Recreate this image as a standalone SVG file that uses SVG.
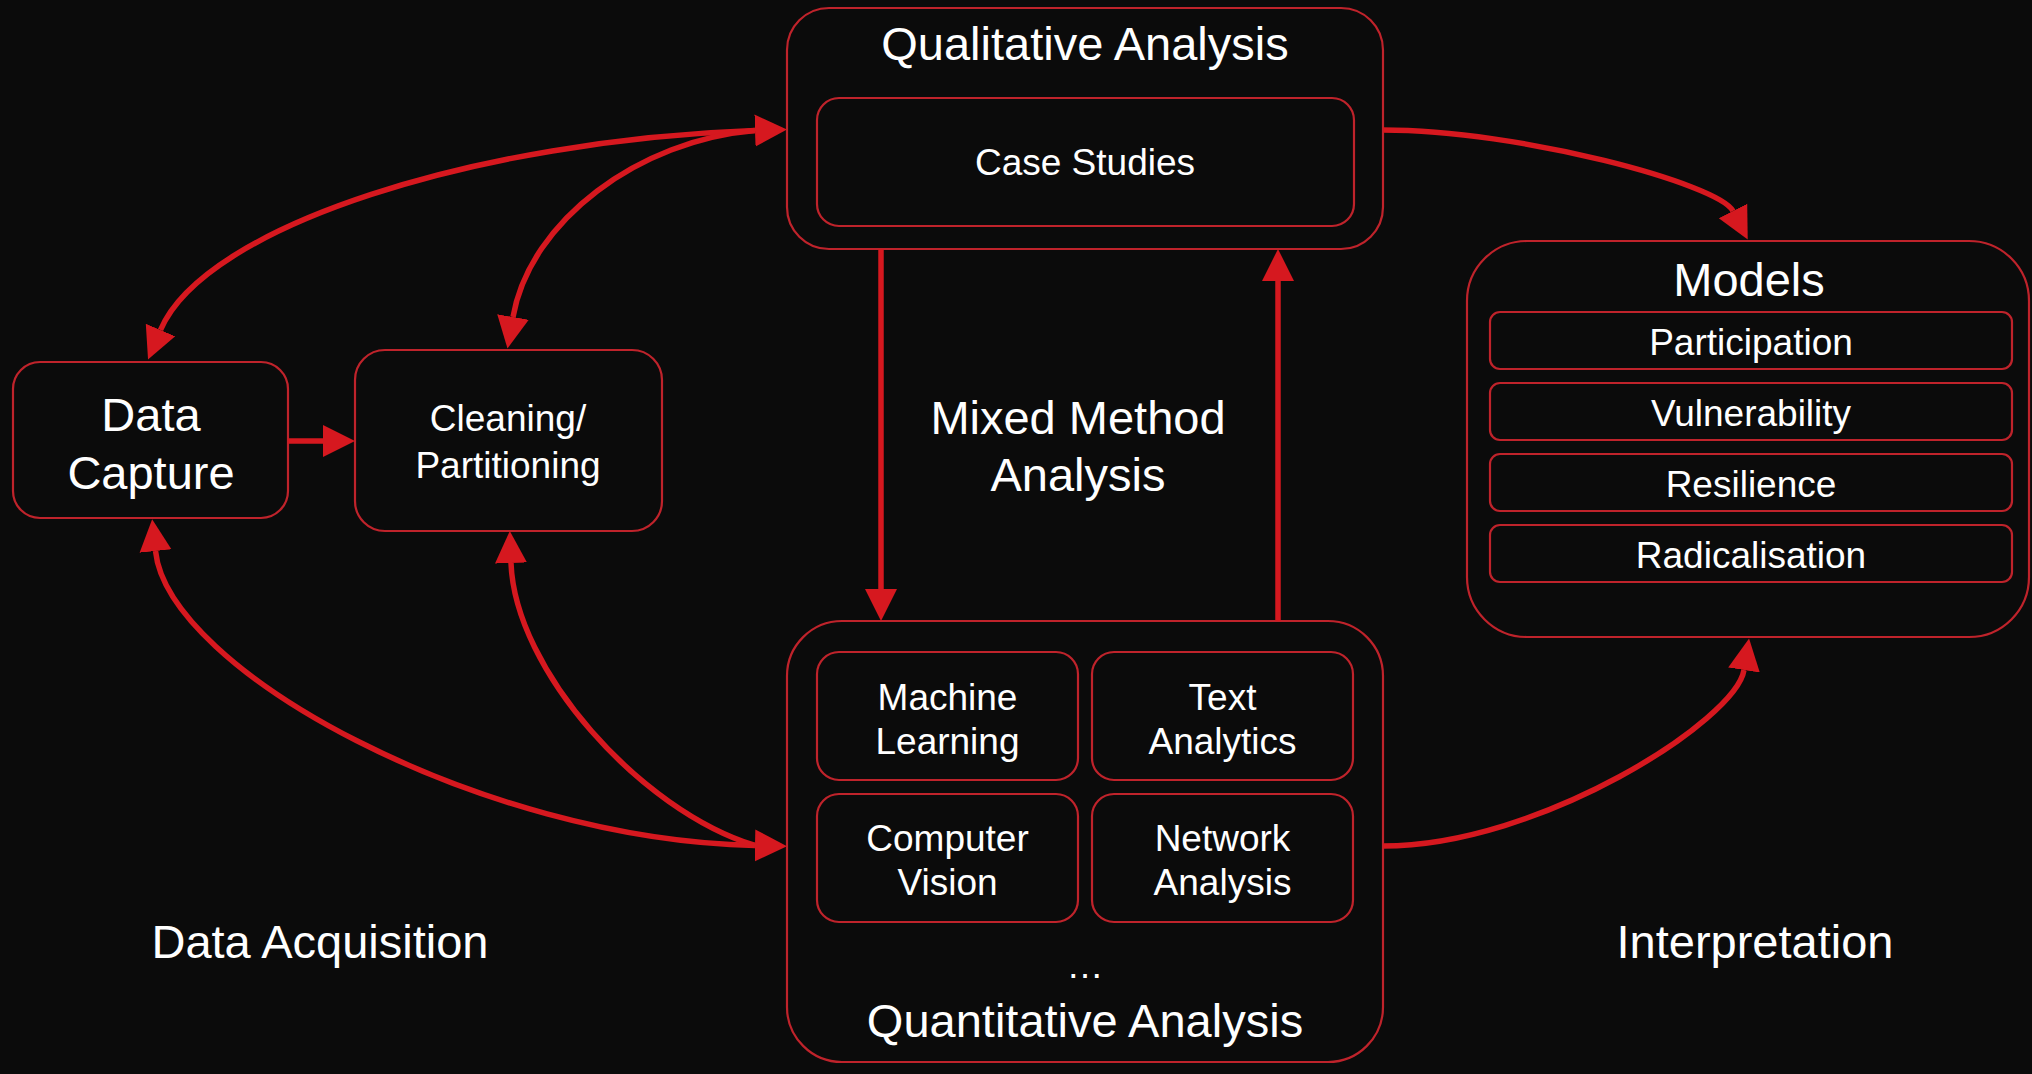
<svg xmlns="http://www.w3.org/2000/svg" width="2032" height="1074" viewBox="0 0 2032 1074">
<defs>
<style>
.box{fill:#0b0b0b;stroke:#bf232b;stroke-width:2.2}
.t{fill:#ffffff;font-family:"Liberation Sans",Arial,sans-serif;text-anchor:middle}
.big{font-size:47px}
.mid{font-size:37px}
.c{fill:none;stroke:#d6181f;stroke-width:5.5}
</style>
<marker id="ah" markerUnits="userSpaceOnUse" markerWidth="34" markerHeight="34" viewBox="0 -17 34 34" refX="0" refY="0" orient="auto-start-reverse">
<path d="M0,-16 L32,0 L0,16 Z" fill="#d6181f"/>
</marker>
</defs>
<rect x="0" y="0" width="2032" height="1074" fill="#0b0b0b"/>

<g id="data-capture">
<rect class="box" x="13" y="362" width="275" height="156" rx="27"/>
<text class="t big" x="151" y="431">Data</text>
<text class="t big" x="151" y="489">Capture</text>
</g>

<g id="cleaning">
<rect class="box" x="355" y="350" width="307" height="181" rx="30"/>
<text class="t mid" x="508" y="431">Cleaning/</text>
<text class="t mid" x="508" y="478">Partitioning</text>
</g>

<g id="qualitative">
<rect class="box" x="787" y="8" width="596" height="241" rx="42"/>
<text class="t big" x="1085" y="60">Qualitative Analysis</text>
<g id="case-studies">
<rect class="box" x="817" y="98" width="537" height="128" rx="22"/>
<text class="t mid" x="1085" y="175">Case Studies</text>
</g>
</g>

<g id="quantitative">
<rect class="box" x="787" y="621" width="596" height="441" rx="55"/>
<g id="machine-learning">
<rect class="box" x="817" y="652" width="261" height="128" rx="22"/>
<text class="t mid" x="947.5" y="710">Machine</text>
<text class="t mid" x="947.5" y="754">Learning</text>
</g>
<g id="text-analytics">
<rect class="box" x="1092" y="652" width="261" height="128" rx="22"/>
<text class="t mid" x="1222.5" y="710">Text</text>
<text class="t mid" x="1222.5" y="754">Analytics</text>
</g>
<g id="computer-vision">
<rect class="box" x="817" y="794" width="261" height="128" rx="22"/>
<text class="t mid" x="947.5" y="851">Computer</text>
<text class="t mid" x="947.5" y="895">Vision</text>
</g>
<g id="network-analysis">
<rect class="box" x="1092" y="794" width="261" height="128" rx="22"/>
<text class="t mid" x="1222.5" y="851">Network</text>
<text class="t mid" x="1222.5" y="895">Analysis</text>
</g>
<text class="t mid" x="1085" y="978">…</text>
<text class="t big" x="1085" y="1037">Quantitative Analysis</text>
</g>

<g id="models">
<rect class="box" x="1467" y="241" width="562" height="396" rx="60"/>
<text class="t big" x="1749" y="296">Models</text>
<g id="participation">
<rect class="box" x="1490" y="312" width="522" height="57" rx="10"/>
<text class="t mid" x="1751" y="355">Participation</text>
</g>
<g id="vulnerability">
<rect class="box" x="1490" y="383" width="522" height="57" rx="10"/>
<text class="t mid" x="1751" y="426">Vulnerability</text>
</g>
<g id="resilience">
<rect class="box" x="1490" y="454" width="522" height="57" rx="10"/>
<text class="t mid" x="1751" y="497">Resilience</text>
</g>
<g id="radicalisation">
<rect class="box" x="1490" y="525" width="522" height="57" rx="10"/>
<text class="t mid" x="1751" y="568">Radicalisation</text>
</g>
</g>

<g id="label-mixed">
<text class="t big" x="1078" y="434">Mixed Method</text>
<text class="t big" x="1078" y="491">Analysis</text>
</g>
<g id="label-acquisition">
<text class="t big" x="320" y="958">Data Acquisition</text>
</g>
<g id="label-interpretation">
<text class="t big" x="1755" y="958">Interpretation</text>
</g>

<g id="connectors">
<path class="c" d="M288,441 L323,441" marker-end="url(#ah)"/>
<path class="c" d="M160.5,330 C205,225 480,140 755,130.5" marker-start="url(#ah)" marker-end="url(#ah)"/>
<path class="c" d="M513,317 C530,220 640,140 755,130.5" marker-start="url(#ah)"/>
<path class="c" d="M155.5,551 C168,670 480,840 755,845.5" marker-start="url(#ah)" marker-end="url(#ah)"/>
<path class="c" d="M511,563 C515,670 640,810 755,845.5" marker-start="url(#ah)"/>
<path class="c" d="M1383,130 C1520,130 1719,184 1733,211" marker-end="url(#ah)"/>
<path class="c" d="M1383,846 C1540,846 1736,720 1744,670" marker-end="url(#ah)"/>
<path class="c" d="M881,249 L881,589" marker-end="url(#ah)"/>
<path class="c" d="M1278,621 L1278,281" marker-end="url(#ah)"/>
</g>
</svg>
